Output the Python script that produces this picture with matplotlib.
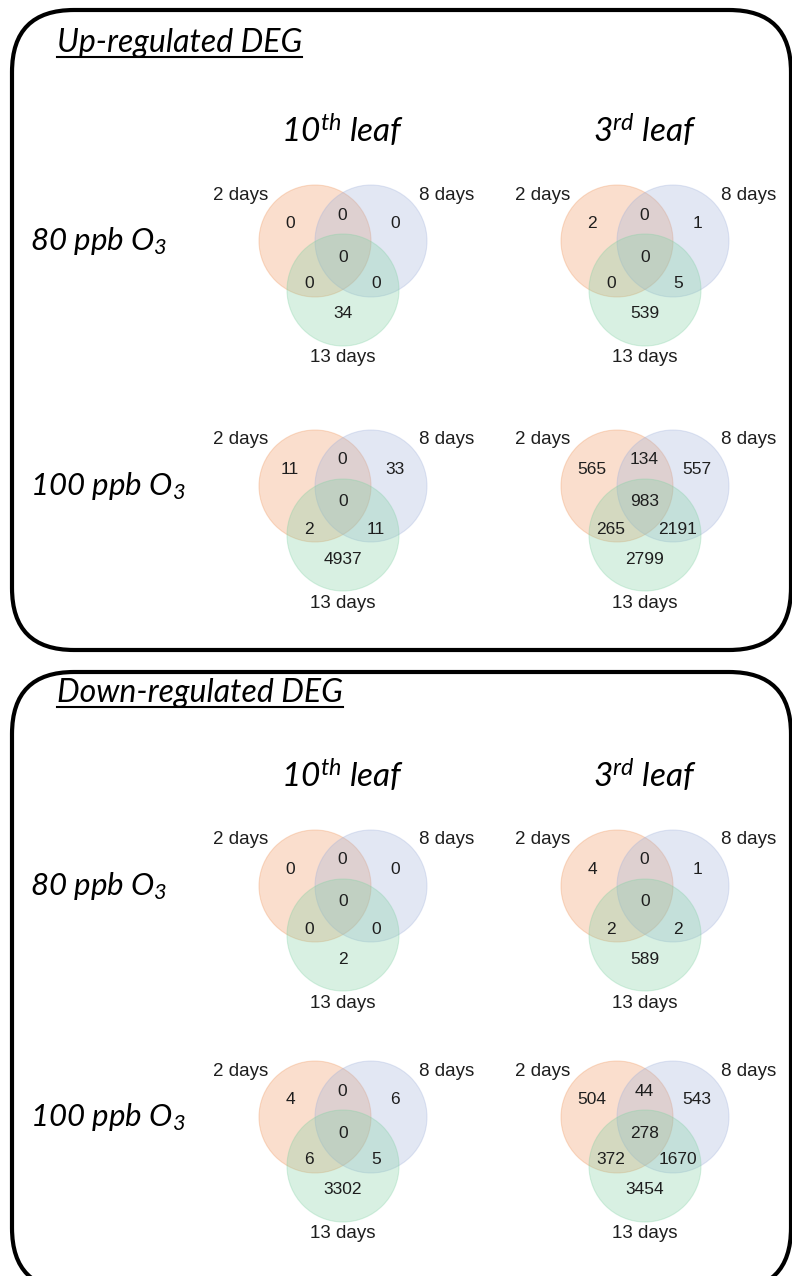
import matplotlib.pyplot as plt
from matplotlib.patches import Circle, FancyBboxPatch

plt.rcParams['mathtext.fontset'] = 'custom'
plt.rcParams['mathtext.rm'] = 'Lato:italic'
plt.rcParams['mathtext.it'] = 'Lato:italic'

# region order: A only, B only, AB, C only, AC, BC, ABC  (A=2 days, B=8 days, C=13 days)
up_10th_80 = [0, 0, 0, 34, 0, 0, 0]
up_3rd_80 = [2, 1, 0, 539, 0, 5, 0]
up_10th_100 = [11, 33, 0, 4937, 2, 11, 0]
up_3rd_100 = [565, 557, 134, 2799, 265, 2191, 983]
down_10th_80 = [0, 0, 0, 2, 0, 0, 0]
down_3rd_80 = [4, 1, 0, 589, 2, 2, 0]
down_10th_100 = [4, 6, 0, 3302, 6, 5, 0]
down_3rd_100 = [504, 543, 44, 3454, 372, 1670, 278]

set_labels = ['2 days', '8 days', '13 days']
col_labels = ['10$^{th}$ leaf', '3$^{rd}$ leaf']
row_labels = ['80 ppb O$_3$', '100 ppb O$_3$']
panel_titles = ['Up-regulated DEG', 'Down-regulated DEG']

colors = ['#ef945a', '#9fb0da', '#7fd0a2']

fig = plt.figure(figsize=(7.92, 12.76), dpi=100)
ax = fig.add_axes([0, 0, 1, 1])
ax.set_xlim(0, 792)
ax.set_ylim(1276, 0)
ax.axis('off')

R = 56
circ_off = [(-28, -16), (28, -16), (0, 33)]
num_off = [(-53, -33), (52, -33), (-1, -42), (0, 57), (-34, 27), (33, 27), (0, 0)]
lab_off = [(-102, -62), (104, -62), (0, 101)]


def venn3(cx, cy, counts):
    for (dx, dy), c in zip(circ_off, colors):
        ax.add_patch(Circle((cx + dx, cy + dy), R, facecolor=c, alpha=0.3,
                            edgecolor=c, lw=0.8, zorder=2))
    for (dx, dy), v in zip(num_off, counts):
        ax.text(cx + dx, cy + dy, str(v), ha='center', va='center',
                fontsize=12.5, family=['Liberation Sans', 'DejaVu Sans'],
                color='#1e1e1e', zorder=3)
    for (dx, dy), s in zip(lab_off, set_labels):
        ax.text(cx + dx, cy + dy, s, ha='center', va='center',
                fontsize=13.5, family=['Liberation Sans', 'DejaVu Sans'],
                color='#1e1e1e', zorder=3)


panels = [
    dict(box=(12, 10, 791, 650), title_y=43, head_y=130, rows=(257, 502),
         data=[[up_10th_80, up_3rd_80], [up_10th_100, up_3rd_100]]),
    dict(box=(12, 672, 791, 1290), title_y=693, head_y=775, rows=(902, 1133),
         data=[[down_10th_80, down_3rd_80], [down_10th_100, down_3rd_100]]),
]
col_x = [343, 645]

titles = []
for p, title in zip(panels, panel_titles):
    x0, y0, x1, y1 = p['box']
    # white face keeps Agg from clipping the curved corners at the canvas edge
    ax.add_patch(FancyBboxPatch((x0, y0), x1 - x0, y1 - y0,
                                boxstyle='round,pad=0,rounding_size=62',
                                facecolor='white', edgecolor='black', lw=3,
                                clip_on=False, zorder=1))
    t = ax.text(57, p['title_y'], title, ha='left', va='center', fontsize=23,
                family='Lato', style='italic', zorder=3)
    titles.append(t)
    for x, lab in zip(col_x, col_labels):
        ax.text(x, p['head_y'], lab, ha='center', va='center', fontsize=24,
                family='Lato', style='italic', zorder=3)
    for y, lab, row in zip(p['rows'], row_labels, p['data']):
        ax.text(30, y - 16, lab, ha='left', va='center', fontsize=22.5,
                family='Lato', style='italic', zorder=3)
        for x, counts in zip(col_x, row):
            venn3(x, y, counts)

# underline panel titles
fig.canvas.draw()
inv = ax.transData.inverted()
for t in titles:
    bb = t.get_window_extent()
    (xa, ya), (xb, yb) = inv.transform([(bb.x0, bb.y0), (bb.x1, bb.y0)])
    ax.plot([xa, xb], [ya - 1, ya - 1], color='black', lw=1.5, zorder=3)

fig.savefig('out.png', dpi=100)
